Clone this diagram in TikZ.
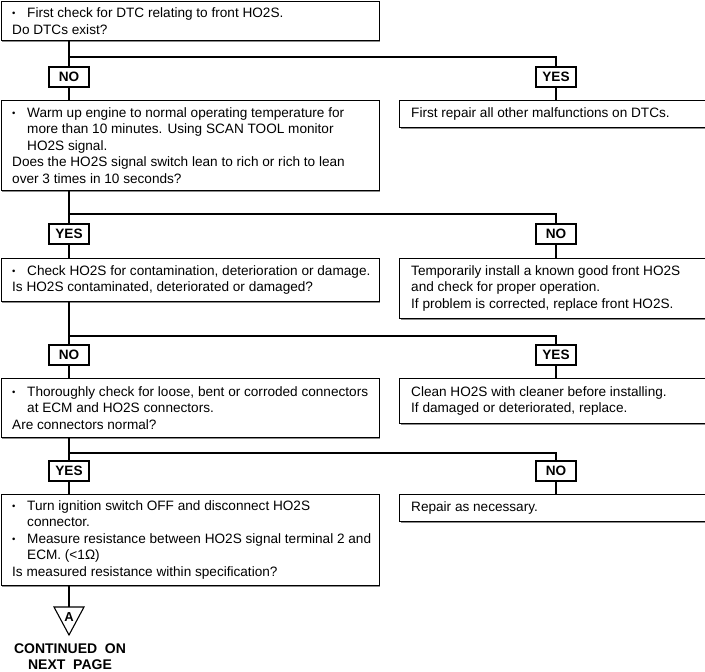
\documentclass[tikz,border=0pt]{standalone}
\usepackage{fontspec}
\setmainfont{Liberation Sans}
\usetikzlibrary{shadows}
\newcommand\bul{\makebox[15pt][l]{\raisebox{1.2pt}{\fontsize{9.5}{9.5}\selectfont •}}}
\newcommand\ind{\hspace*{15pt}}
\begin{document}
\begin{tikzpicture}[x=1pt,y=-1pt]
\tikzset{
  box/.style={draw, fill=white, line width=0.9pt, rectangle, anchor=north west, inner sep=0pt,
    drop shadow={shadow xshift=1.2pt, shadow yshift=-1.2pt, fill=black!45, opacity=1}},
  lbox/.style={box, minimum width=378pt},
  rbox/.style={box, minimum width=305.5pt},
  txt/.style={anchor=west, align=left, inner sep=0pt, font=\fontsize{13.6}{16.5}\selectfont},
  lab/.style={draw, fill=white, line width=1.1pt, minimum width=40pt, minimum height=20pt, inner sep=0pt,
    font=\bfseries\fontsize{13.6}{15}\selectfont},
  conn/.style={line width=1.3pt},
}
\useasboundingbox (0,0) rectangle (705,672);
% left column
\node[lbox, minimum height=39pt] (b1) at (0.5,1) {};
\node[txt] (b1t) at ([xshift=11.5pt]b1.west) {\bul First check for DTC relating to front HO2S.\\Do DTCs exist?};
\node[lbox, minimum height=90pt] (b2) at (0.5,100) {};
\node[txt] (b2t) at ([xshift=11.5pt]b2.west) {\bul Warm up engine to normal operating temperature for\\\ind more than 10 minutes. Using SCAN TOOL monitor\\\ind HO2S signal.\\Does the HO2S signal switch lean to rich or rich to lean\\over 3 times in 10 seconds?};
\node[lbox, minimum height=43pt] (b3) at (0.5,258) {};
\node[txt] (b3t) at ([xshift=11.5pt]b3.west) {\bul Check HO2S for contamination, deterioration or damage.\\Is HO2S contaminated, deteriorated or damaged?};
\node[lbox, minimum height=59pt] (b4) at (0.5,378) {};
\node[txt] (b4t) at ([xshift=11.5pt]b4.west) {\bul Thoroughly check for loose, bent or corroded connectors\\\ind at ECM and HO2S connectors.\\Are connectors normal?};
\node[lbox, minimum height=91pt] (b5) at (0.5,494) {};
\node[txt] (b5t) at ([xshift=11.5pt]b5.west) {\bul Turn ignition switch OFF and disconnect HO2S\\\ind connector.\\\bul Measure resistance between HO2S signal terminal 2 and\\\ind ECM. (<1Ω)\\Is measured resistance within specification?};
% right column
\node[rbox, minimum height=27pt] (r1) at (399,100) {};
\node[txt] (r1t) at ([xshift=12pt]r1.west) {First repair all other malfunctions on DTCs.};
\node[rbox, minimum height=60pt] (r2) at (399,258) {};
\node[txt] (r2t) at ([xshift=12pt]r2.west) {Temporarily install a known good front HO2S\\and check for proper operation.\\If problem is corrected, replace front HO2S.};
\node[rbox, minimum height=45pt] (r3) at (399,378) {};
\node[txt] (r3t) at ([xshift=12pt]r3.west) {Clean HO2S with cleaner before installing.\\If damaged or deteriorated, replace.};
\node[rbox, minimum height=27pt] (r4) at (399,494) {};
\node[txt] (r4t) at ([xshift=12pt]r4.west) {Repair as necessary.};
% labels
\node[lab] (n1) at (69,77) {NO};
\node[lab] (y1) at (556,77) {YES};
\node[lab] (n2) at (69,234) {YES};
\node[lab] (y2) at (556,234) {NO};
\node[lab] (n3) at (69,355) {NO};
\node[lab] (y3) at (556,355) {YES};
\node[lab] (n4) at (69,471) {YES};
\node[lab] (y4) at (556,471) {NO};
\coordinate (j1) at (69,57);
\coordinate (j2) at (69,214);
\coordinate (j3) at (69,336);
\coordinate (j4) at (69,453);
% connectors
\draw[conn] (b1.south -| n1) -- (n1.north);
\draw[conn] (n1.south) -- (b2.north -| n1);
\draw[conn] (j1) -| (y1.north);
\draw[conn] (y1.south) -- (r1.north -| y1);
\draw[conn] (b2.south -| n2) -- (n2.north);
\draw[conn] (n2.south) -- (b3.north -| n2);
\draw[conn] (j2) -| (y2.north);
\draw[conn] (y2.south) -- (r2.north -| y2);
\draw[conn] (b3.south -| n3) -- (n3.north);
\draw[conn] (n3.south) -- (b4.north -| n3);
\draw[conn] (j3) -| (y3.north);
\draw[conn] (y3.south) -- (r3.north -| y3);
\draw[conn] (b4.south -| n4) -- (n4.north);
\draw[conn] (n4.south) -- (b5.north -| n4);
\draw[conn] (j4) -| (y4.north);
\draw[conn] (y4.south) -- (r4.north -| y4);
% off-page connector
\coordinate (tri) at (69,607);
\draw[conn] (b5.south -| tri) -- (tri);
\draw[line width=1.1pt, line join=miter] (54,607) -- (84,607) -- (69,635) -- cycle;
\node[font=\bfseries\fontsize{13}{14}\selectfont, inner sep=0pt] (tA) at (69,617) {A};
\node[font=\bfseries\fontsize{14}{16}\selectfont, align=center, inner sep=0pt] (cont) at (70,657) {CONTINUED\ \ ON\\NEXT\ \ PAGE};
\end{tikzpicture}
\end{document}
